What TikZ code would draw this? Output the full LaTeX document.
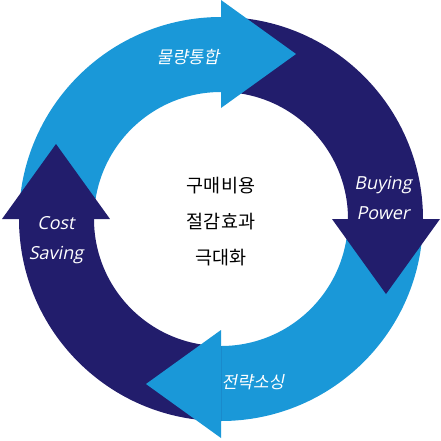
\documentclass[tikz,border=0pt]{standalone}
\usepackage{fontspec}
\usepackage{tikz}
\newfontfamily\kr{Noto Sans CJK KR}
\newfontfamily\krit{Noto Sans CJK KR}[FakeSlant=0.2]
\newfontfamily\enit{Open Sans}[FakeSlant=0.2]
\definecolor{cyclelight}{HTML}{1A98D8}
\definecolor{cycledark}{HTML}{221D6C}

\begin{document}
\begin{tikzpicture}[x=1pt,y=1pt]
\useasboundingbox (-221,-221) rectangle (220,219);
% arcs first, heads on top
\foreach \a/\c in {0/cyclelight, -90/cycledark, -180/cyclelight, -270/cycledark}
    \fill[\c, rotate=\a] (180:202) arc[start angle=180, end angle=90, radius=202]
        -- (90:127) arc[start angle=90, end angle=180, radius=127] -- cycle;
\foreach \a/\c in {0/cyclelight, -90/cycledark, -180/cyclelight, -270/cycledark}
    \fill[\c, rotate=\a] (0,111) -- (0,219) -- (75,165) -- cycle;
\node[text=white, font=\krit\fontsize{17}{17}\selectfont] (volume) at (-33,162) {물량통합};
\node[text=white, font=\enit\fontsize{18}{30}\selectfont, align=center] (buying) at (162,21) {Buying\\Power};
\node[text=white, font=\krit\fontsize{17}{17}\selectfont] (sourcing) at (32,-163) {전략소싱};
\node[text=white, font=\enit\fontsize{18}{30}\selectfont, align=center] (cost) at (-165,-21) {Cost\\Saving};
\node[font=\kr\fontsize{18.5}{36}\selectfont, align=center] (goal) at (0,-3) {구매비용\\절감효과\\극대화};
\end{tikzpicture}
\end{document}
